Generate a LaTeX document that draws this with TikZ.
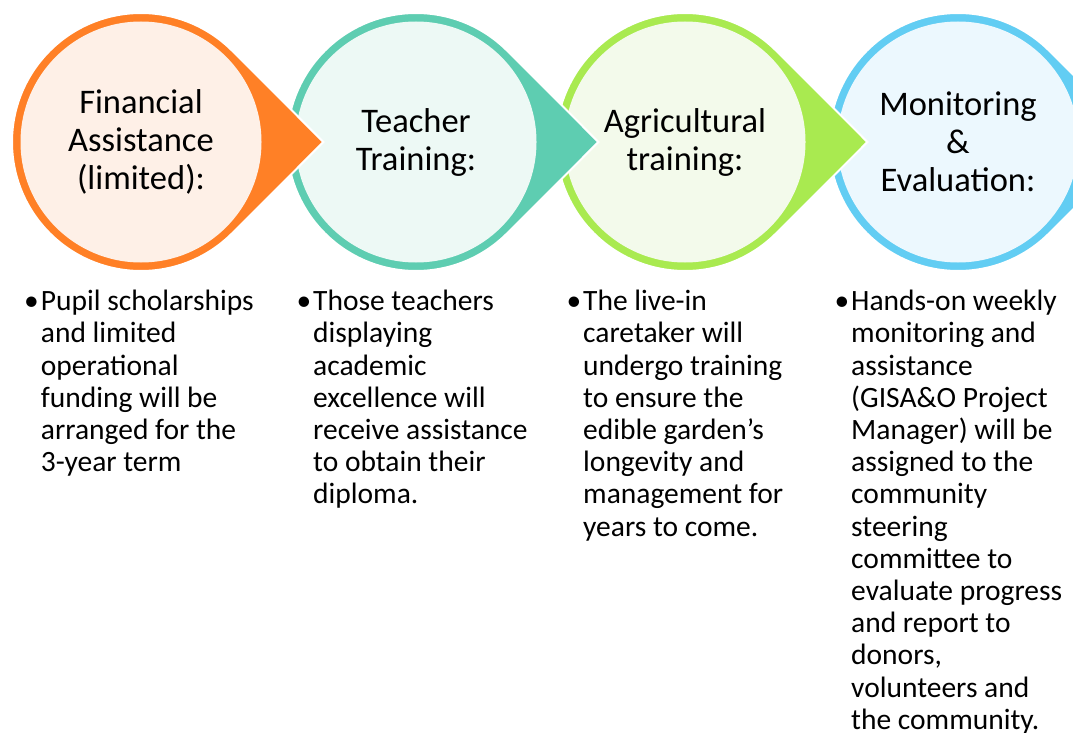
\documentclass[tikz,border=0pt]{standalone}
\usepackage{fontspec}
\setmainfont{Carlito}
\usetikzlibrary{positioning}

\definecolor{finorange}{RGB}{255,128,38}
\definecolor{finpale}{RGB}{254,240,231}
\definecolor{teachteal}{RGB}{94,205,177}
\definecolor{teachpale}{RGB}{237,249,245}
\definecolor{agrigreen}{RGB}{169,234,80}
\definecolor{agripale}{RGB}{243,250,235}
\definecolor{monblue}{RGB}{98,205,243}
\definecolor{monpale}{RGB}{236,248,254}

\begin{document}
\begin{tikzpicture}[x=1pt, y=-1pt,
    drop/.style={draw=white, line width=2pt},
    stagecircle/.style={circle, minimum size=241, inner sep=0pt, align=center,
      font=\fontsize{34.5}{38}\selectfont},
    stagetext/.style={anchor=north west, inner sep=0pt, align=left,
      font=\fontsize{29.5}{32.2}\selectfont}]
  \useasboundingbox (0,0) rectangle (1073,733);
  \clip (0,0) rectangle (1073,733);

  % Stage 4: Monitoring & Evaluation
  \fill[monblue, drop] (958,142) ++(45:129) arc[start angle=45, end angle=315, radius=129]
    -- (1140.4,142) -- cycle;
  \node[stagecircle, fill=monpale] (mon) at (958,142) {Monitoring\\\&\\Evaluation:};

  % Stage 3: Agricultural training
  \fill[agrigreen, drop] (685,142) ++(45:129) arc[start angle=45, end angle=315, radius=129]
    -- (867.4,142) -- cycle;
  \node[stagecircle, fill=agripale] (agri) at (685,142) {Agricultural\\training:};

  % Stage 2: Teacher Training
  \fill[teachteal, drop] (416,142) ++(45:129) arc[start angle=45, end angle=315, radius=129]
    -- (598.4,142) -- cycle;
  \node[stagecircle, fill=teachpale] (teach) at (416,142) {Teacher\\Training:};

  % Stage 1: Financial Assistance
  \fill[finorange, drop] (141,142) ++(45:129) arc[start angle=45, end angle=315, radius=129]
    -- (323.4,142) -- cycle;
  \node[stagecircle, fill=finpale] (fin) at (141,142) {Financial\\Assistance\\(limited):};

  % Bullet texts under each stage
  \node[stagetext] (fintext) at (40.7,290) {\llap{•\hspace{2pt}}Pupil scholarships\\and limited\\operational\\funding will be\\arranged for the\\3-year term};
  \node[stagetext] (teachtext) at (313,290) {\llap{•\hspace{2pt}}Those teachers\\displaying\\academic\\excellence will\\receive assistance\\to obtain their\\diploma.};
  \node[stagetext] (agritext) at (583,290) {\llap{•\hspace{2pt}}The live-in\\caretaker will\\undergo training\\to ensure the\\edible garden’s\\longevity and\\management for\\years to come.};
  \node[stagetext] (montext) at (851,290) {\llap{•\hspace{2pt}}Hands-on weekly\\monitoring and\\assistance\\(GISA\&O Project\\Manager) will be\\assigned to the\\community\\steering\\committee to\\evaluate progress\\and report to\\donors,\\volunteers and\\the community.};
\end{tikzpicture}
\end{document}
